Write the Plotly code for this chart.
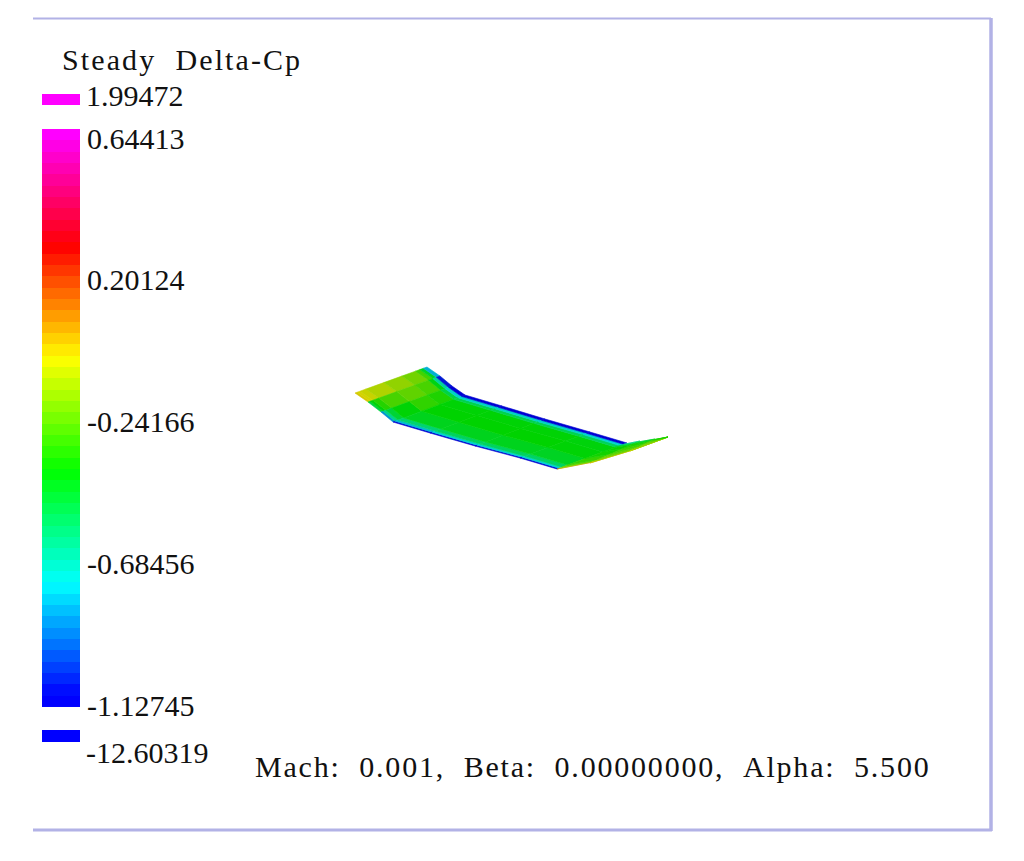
import plotly.graph_objects as go
from plotly.colors import sample_colorscale

# ---- colour scale
scale_stops = [[0.0, "rgb(0,0,255)"], [0.2, "rgb(0,255,255)"], [0.4, "rgb(0,255,0)"],
               [0.6, "rgb(255,255,0)"], [0.8, "rgb(255,0,0)"], [1.0, "rgb(255,0,255)"]]
scale_min = -1.0920
scale_max = 0.6618

# ---- legend
legend_title = "Steady  Delta-Cp"
tick_values = [0.64413, 0.20124, -0.24166, -0.68456, -1.12745]
tick_labels = ["0.64413", "0.20124", "-0.24166", "-0.68456", "-1.12745"]
over_value, over_label = 1.99472, "1.99472"
under_value, under_label = -12.60319, "-12.60319"
band_values = [-1.1097, -1.0743, -1.0388, -1.0034, -0.9680, -0.9326, -0.8971, -0.8617, -0.8263, -0.7909,
               -0.7554, -0.7200, -0.6846, -0.6491, -0.6137, -0.5783, -0.5428, -0.5074, -0.4720, -0.4366,
               -0.4011, -0.3657, -0.3303, -0.2949, -0.2594, -0.2240, -0.1886, -0.1532, -0.1177, -0.0823,
               -0.0469, -0.0115, 0.0240, 0.0594, 0.0948, 0.1303, 0.1657, 0.2011, 0.2365, 0.2720,
               0.3074, 0.3428, 0.3782, 0.4137, 0.4491, 0.4845, 0.5200, 0.5554, 0.5908, 0.6262, 0.6617]
band_top = 0.6794

caption = "Mach:  0.001,  Beta:  0.00000000,  Alpha:  5.500"

# ---- wing surface, in picture units: one lower and one upper edge point per span station
lower_x = [355, 368, 381, 393, 430, 475, 520, 557, 590, 630, 668]
lower_y = [393, 402, 412, 422, 433, 446, 458, 469, 463, 451, 437]
upper_x = [427, 440, 452, 465, 502, 545, 590, 627, 640, 655, 668]
upper_y = [367, 376, 386, 395, 406, 419, 432, 443, 441, 439, 437]
chord_stations = [0.0, 0.03, 0.07, 0.15, 0.40, 0.65, 0.84, 0.90, 0.95, 1.0]
# Delta-Cp per panel: one row per span strip, lower edge to upper edge
panel_cp = [
    [-0.02, -0.04, -0.06, -0.10, -0.15, -0.20, -0.28, -0.45, -0.80],
    [-0.50, -0.40, -0.33, -0.27, -0.23, -0.27, -0.42, -0.65, -1.05],
    [-0.85, -0.62, -0.48, -0.40, -0.31, -0.34, -0.50, -0.72, -1.10],
    [-1.10, -0.78, -0.58, -0.44, -0.39, -0.40, -0.52, -0.72, -1.10],
    [-1.10, -0.74, -0.55, -0.44, -0.39, -0.40, -0.52, -0.72, -1.10],
    [-1.10, -0.74, -0.55, -0.44, -0.39, -0.40, -0.52, -0.72, -1.10],
    [-1.10, -0.74, -0.56, -0.45, -0.40, -0.41, -0.54, -0.74, -1.10],
    [0.05, -0.12, -0.22, -0.30, -0.36, -0.38, -0.44, -0.52, -0.62],
    [0.02, -0.05, -0.15, -0.22, -0.28, -0.33, -0.38, -0.42, -0.48],
    [-0.04, -0.08, -0.12, -0.16, -0.20, -0.24, -0.28, -0.32, -0.36],
]
surface_shade = 0.83


def panel_colour(cp):
    t = min(1.0, max(0.0, (cp - scale_min) / (scale_max - scale_min)))
    rgb = sample_colorscale(scale_stops, [t], colortype="tuple")[0]
    parts = [int(255 * c * surface_shade) for c in rgb]
    return f"rgb({parts[0]},{parts[1]},{parts[2]})"


def mesh_point(s, c):
    f = chord_stations[c]
    return (lower_x[s] + f * (upper_x[s] - lower_x[s]),
            lower_y[s] + f * (upper_y[s] - lower_y[s]))


fig = go.Figure()

for s, row in enumerate(panel_cp):
    for c, cp in enumerate(row):
        corners = [mesh_point(s, c), mesh_point(s + 1, c), mesh_point(s + 1, c + 1), mesh_point(s, c + 1)]
        colour = panel_colour(cp)
        fig.add_trace(go.Scatter(
            x=[p[0] for p in corners] + [corners[0][0]],
            y=[p[1] for p in corners] + [corners[0][1]],
            mode="lines", fill="toself", fillcolor=colour,
            line=dict(color=colour, width=0.6), hoverinfo="skip", showlegend=False,
        ))

# legend bar on its own value axis
fig.add_trace(go.Heatmap(
    x=[0], y=band_values, z=[[v] for v in band_values],
    colorscale=scale_stops, zmin=scale_min, zmax=scale_max, showscale=False,
    xaxis="x2", yaxis="y2", hoverinfo="skip",
))

FONT = "Liberation Serif"
INK = "#111111"
SIZE = 30
W, H = 1024, 861
fig.update_layout(
    template="none",
    width=W, height=H, margin=dict(l=0, r=0, t=0, b=0),
    paper_bgcolor="white", plot_bgcolor="white", showlegend=False,
    font=dict(family=FONT, size=SIZE, color=INK),
    xaxis=dict(domain=[0, 1], range=[0, W], visible=False, fixedrange=True, automargin=False),
    yaxis=dict(domain=[0, 1], range=[H, 0], visible=False, fixedrange=True, automargin=False),
    xaxis2=dict(domain=[42 / W, 80 / W], range=[-0.5, 0.5], visible=False, anchor="y2",
                fixedrange=True, automargin=False),
    yaxis2=dict(domain=[1 - 707 / H, 1 - 129 / H], range=[band_values[0] - 0.0177, band_top],
                anchor="x2", side="right", showgrid=False, zeroline=False, showline=False,
                tickmode="array", tickvals=tick_values, ticktext=tick_labels, ticks="",
                ticklabelstandoff=6, ticklabelshift=-2, tickfont=dict(family=FONT, size=SIZE, color=INK),
                fixedrange=True, automargin=False),
)

frame = "#b2b2e6"
fig.add_shape(type="line", x0=33, x1=991, y0=18.5, y1=18.5, line=dict(color=frame, width=2))
fig.add_shape(type="line", x0=991, x1=991, y0=18, y1=831, line=dict(color=frame, width=3.5))
fig.add_shape(type="line", x0=33, x1=992, y0=830, y1=830, line=dict(color=frame, width=3))

# out-of-range swatches
swatch_colour = sample_colorscale(scale_stops, [1.0])[0]
fig.add_shape(type="rect", x0=42, x1=80, y0=94, y1=105, line_width=0, fillcolor=swatch_colour)
swatch_colour = sample_colorscale(scale_stops, [0.0])[0]
fig.add_shape(type="rect", x0=42, x1=80, y0=730, y1=742, line_width=0, fillcolor=swatch_colour)


def note(text, x, y):
    fig.add_annotation(x=x, y=y, xref="x", yref="y", text=text, showarrow=False,
                       xanchor="left", yanchor="middle", align="left",
                       font=dict(family=FONT, size=SIZE, color=INK), borderpad=0, borderwidth=0)


note(legend_title.replace("  ", "\u00a0\u00a0"), 62, 59.5)
note(over_label, 86, 95.5)
note(under_label, 86, 752.5)
note(caption.replace("  ", "\u00a0\u00a0"), 255, 766.5)

spacing = """
document.body.style.margin = '0';
var gd = document.querySelector('.plotly-graph-div');
gd.querySelectorAll('.annotation-text').forEach(function (t) {
  var s = t.textContent;
  if (s.indexOf('Steady') === 0) { t.style.letterSpacing = '2.1px'; }
  if (s.indexOf('Mach') === 0) { t.style.letterSpacing = '1.8px'; }
});
"""
fig.write_html("out.html", post_script=spacing, config={"displayModeBar": False})
